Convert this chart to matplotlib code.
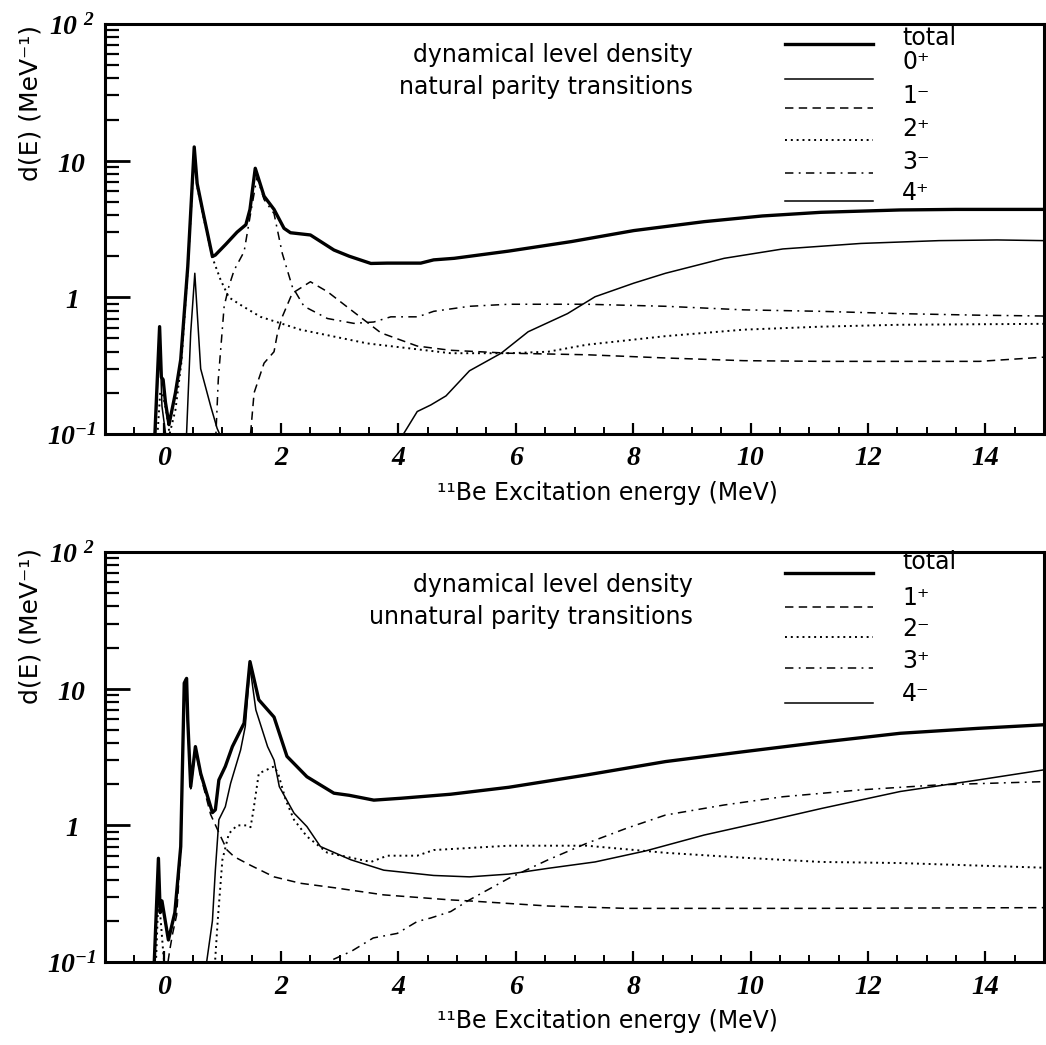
import numpy as np
import matplotlib
matplotlib.use("Agg")
import matplotlib.pyplot as plt
from matplotlib.ticker import FixedLocator, NullFormatter

plt.rcParams['mathtext.fontset'] = 'custom'
plt.rcParams['mathtext.bf'] = 'Liberation Serif:bold:italic'
plt.rcParams['font.family'] = ['DejaVu Sans']

# ---------------- natural parity (top panel) ----------------
e_tot_nat = [-0.16, -0.07, -0.04, -0.01, 0.03, 0.09, 0.2, 0.29, 0.41, 0.52, 0.57, 0.66, 0.83, 0.88,
             1.06, 1.25, 1.4, 1.47, 1.56, 1.71, 1.88, 2.05, 2.16, 2.5, 2.9, 3.16, 3.53, 3.81, 4.38,
             4.6, 4.95, 5.88, 6.95, 8.01, 9.21, 10.2, 11.2, 12.55, 13.5, 15.0]
d_tot_nat = [0.08, 0.61, 0.26, 0.25, 0.17, 0.117, 0.2, 0.35, 1.68, 12.6, 6.8, 4.4, 1.99, 2.04,
             2.45, 3.0, 3.4, 4.4, 8.8, 5.5, 4.4, 3.2, 2.97, 2.86, 2.22, 2.0, 1.77, 1.78, 1.78,
             1.88, 1.93, 2.18, 2.56, 3.08, 3.58, 3.94, 4.19, 4.36, 4.4, 4.4]

e_0p = [-0.15, -0.07, -0.03, 0.02, 0.06, 0.38, 0.46, 0.53, 0.63, 0.8, 0.91, 1.0]
d_0p = [0.08, 0.55, 0.16, 0.11, 0.08, 0.08, 0.55, 1.5, 0.30, 0.16, 0.11, 0.09]

e_1m = [1.46, 1.54, 1.71, 1.88, 1.94, 2.02, 2.19, 2.5, 2.79, 3.19, 3.7, 4.32, 4.88, 5.88,
        7.21, 8.55, 9.88, 11.2, 12.55, 13.9, 15.0]
d_1m = [0.08, 0.2, 0.33, 0.40, 0.55, 0.72, 1.07, 1.30, 1.1, 0.81, 0.55, 0.44, 0.41, 0.39,
        0.38, 0.36, 0.344, 0.34, 0.34, 0.34, 0.365]

e_2p = [-0.12, -0.06, -0.02, 0.04, 0.1, 0.2, 0.3, 0.41, 0.52, 0.57, 0.66, 0.83, 0.97, 1.11,
        1.31, 1.65, 2.33, 3.47, 4.89, 5.9, 6.55, 7.21, 8.55, 9.88, 11.2, 12.55, 15.0]
d_2p = [0.08, 0.2, 0.2, 0.15, 0.1, 0.15, 0.33, 1.6, 11.8, 6.5, 4.2, 1.95, 1.34, 1.0,
        0.88, 0.72, 0.58, 0.46, 0.39, 0.39, 0.4, 0.45, 0.52, 0.58, 0.61, 0.63, 0.64]

e_3m = [0.88, 0.93, 1.03, 1.11, 1.2, 1.37, 1.48, 1.59, 1.71, 1.88, 2.02, 2.19, 2.39, 2.79,
        3.24, 3.58, 3.87, 4.33, 4.6, 5.21, 5.88, 7.21, 8.55, 9.88, 11.2, 12.55, 13.9, 15.0]
d_3m = [0.08, 0.25, 0.86, 1.2, 1.58, 2.16, 4.1, 7.6, 5.2, 4.1, 2.1, 1.2, 0.86, 0.70,
        0.645, 0.66, 0.72, 0.72, 0.79, 0.86, 0.89, 0.89, 0.86, 0.81, 0.79, 0.76, 0.74, 0.73]

e_4p = [4.02, 4.32, 4.55, 4.81, 5.21, 5.75, 6.21, 6.88, 7.35, 8.01, 8.55, 9.55, 10.55,
        11.88, 13.21, 14.2, 15.0]
d_4p = [0.09, 0.146, 0.163, 0.19, 0.29, 0.39, 0.56, 0.76, 1.01, 1.27, 1.5, 1.93, 2.26,
        2.48, 2.6, 2.63, 2.6]

# ---------------- unnatural parity (bottom panel) ----------------
e_tot_unn = [-0.17, -0.09, -0.06, -0.03, 0.08, 0.19, 0.29, 0.35, 0.39, 0.41, 0.46, 0.54, 0.63,
             0.83, 0.88, 0.94, 1.05, 1.17, 1.37, 1.47, 1.62, 1.88, 2.1, 2.44, 2.9, 3.16, 3.58,
             4.05, 4.89, 5.88, 7.21, 8.55, 9.88, 11.2, 12.55, 13.88, 15.0]
d_tot_unn = [0.08, 0.574, 0.23, 0.28, 0.145, 0.23, 0.70, 11.0, 11.9, 5.9, 1.92, 3.77, 2.4,
             1.24, 1.3, 2.15, 2.7, 3.77, 5.6, 15.8, 8.3, 6.2, 3.2, 2.27, 1.72, 1.66, 1.53,
             1.58, 1.69, 1.9, 2.34, 2.93, 3.46, 4.06, 4.72, 5.13, 5.45]

e_1p = [0.04, 0.1, 0.15, 0.22, 0.29, 0.35, 0.39, 0.41, 0.46, 0.54, 0.63, 0.8, 0.97, 1.08,
        1.2, 1.48, 1.88, 2.33, 2.9, 3.75, 4.88, 5.21, 6.55, 7.88, 11.0, 15.0]
d_1p = [0.08, 0.12, 0.16, 0.22, 0.65, 10.5, 11.5, 5.6, 1.85, 3.6, 2.3, 1.2, 0.83, 0.66,
        0.59, 0.51, 0.42, 0.377, 0.35, 0.31, 0.285, 0.28, 0.257, 0.247, 0.247, 0.25]

e_2m = [-0.14, -0.09, -0.05, -0.01, 0.03, 0.86, 0.92, 1.0, 1.11, 1.25, 1.43, 1.48, 1.53,
        1.62, 1.88, 1.95, 2.08, 2.22, 2.44, 2.79, 3.19, 3.53, 3.81, 4.32, 4.6, 5.88, 7.21,
        8.55, 9.88, 11.2, 12.55, 15.0]
d_2m = [0.08, 0.3, 0.2, 0.12, 0.08, 0.08, 0.2, 0.56, 0.87, 1.0, 1.0, 0.97, 1.3,
        2.4, 2.7, 2.4, 1.53, 1.1, 0.83, 0.63, 0.58, 0.54, 0.6, 0.6, 0.66, 0.71, 0.71,
        0.63, 0.58, 0.54, 0.53, 0.49]

e_3p = [2.6, 2.9, 3.2, 3.57, 3.98, 4.32, 4.55, 4.89, 5.21, 5.88, 6.55, 7.21, 7.88, 8.55,
        9.55, 10.55, 11.88, 13.21, 15.0]
d_3p = [0.085, 0.105, 0.12, 0.15, 0.162, 0.198, 0.21, 0.234, 0.285, 0.41, 0.56, 0.74, 0.95,
        1.19, 1.41, 1.62, 1.82, 1.98, 2.09]

e_4m = [0.7, 0.83, 0.88, 0.94, 1.05, 1.14, 1.31, 1.39, 1.47, 1.57, 1.77, 1.88, 1.97, 2.22,
        2.44, 2.67, 3.19, 3.75, 4.6, 5.21, 5.88, 6.55, 7.35, 8.21, 9.21, 10.21, 11.21,
        12.55, 13.88, 15.0]
d_4m = [0.08, 0.2, 0.47, 1.1, 1.37, 2.03, 3.56, 5.3, 14.5, 7.0, 3.77, 3.0, 1.92, 1.23,
        0.98, 0.70, 0.56, 0.47, 0.43, 0.42, 0.44, 0.485, 0.54, 0.65, 0.85, 1.06, 1.33,
        1.77, 2.15, 2.55]

x_ticks = [0, 2, 4, 6, 8, 10, 12, 14]
y_ticks = [0.1, 1, 10, 100]
y_ticklabels = [r'$\mathbf{10^{-1}}$', r'$\mathbf{1}$', r'$\mathbf{10}$', r'$\mathbf{10^{\ 2}}$']

# line styles
SOLID = '-'
DASH = (0, (5.5, 3.5))
DOT = (0, (1.0, 2.0))
DASHDOT = (0, (5.5, 3.5, 1.2, 3.5))
LW_TOT = 2.4
LW = 1.1

fig = plt.figure(figsize=(10.46, 10.45), dpi=100)


def setup_axes(ax):
    ax.set_xlim(-1, 15)
    ax.set_yscale('log')
    ax.set_ylim(0.1, 100)
    for s in ax.spines.values():
        s.set_linewidth(2.2)
    ax.xaxis.set_major_locator(FixedLocator(x_ticks))
    ax.xaxis.set_minor_locator(FixedLocator(np.arange(-1, 15.01, 0.5)))
    ax.set_xticklabels([str(t) for t in x_ticks], fontfamily='Liberation Serif',
                       fontstyle='italic', fontweight='bold', fontsize=20)
    ax.yaxis.set_major_locator(FixedLocator(y_ticks))
    ax.yaxis.set_minor_locator(FixedLocator([m * 10.0 ** k for k in (-1, 0, 1) for m in range(2, 10)]))
    ax.yaxis.set_minor_formatter(NullFormatter())
    ax.set_yticklabels(y_ticklabels, fontsize=20)
    for lab in ax.get_yticklabels():
        lab.set_horizontalalignment('center')
    ax.tick_params(axis='x', which='major', direction='in', length=8, width=1.6, pad=9,
                   top=False)
    ax.tick_params(axis='x', which='minor', direction='in', length=5, width=1.4, top=False)
    ax.tick_params(axis='y', which='major', direction='in', length=18, width=2.0, pad=24,
                   right=False)
    ax.tick_params(axis='y', which='minor', direction='in', length=10, width=1.6, right=False)
    ax.set_xlabel('¹¹Be Excitation energy (MeV)', fontsize=17)
    ax.xaxis.set_label_coords(0.535, -0.115)


def draw_legend(ax, entries, line_y, text_y):
    for (label, ls, lw), ly, ty in zip(entries, line_y, text_y):
        ax.plot([0.724, 0.818], [ly, ly], transform=ax.transAxes, color='black',
                linestyle=ls, linewidth=lw, clip_on=False)
        ax.text(0.849, ty, label, transform=ax.transAxes, fontsize=17, va='center', ha='left')


# ---------------- top panel ----------------
ax1 = fig.add_axes([0.1004, 0.5847, 0.8977, 0.3923])
setup_axes(ax1)
ax1.plot(e_tot_nat, d_tot_nat, color='black', lw=LW_TOT, ls=SOLID)
ax1.plot(e_0p, d_0p, color='black', lw=LW, ls=SOLID)
ax1.plot(e_1m, d_1m, color='black', lw=LW, ls=DASH)
ax1.plot(e_2p, d_2p, color='black', lw=LW + 0.3, ls=DOT)
ax1.plot(e_3m, d_3m, color='black', lw=LW, ls=DASHDOT)
ax1.plot(e_4p, d_4p, color='black', lw=LW, ls=SOLID)
ax1.text(0.626, 0.924, 'dynamical level density', transform=ax1.transAxes, fontsize=17,
         ha='right', va='center')
ax1.text(0.626, 0.846, 'natural parity transitions', transform=ax1.transAxes, fontsize=17,
         ha='right', va='center')
draw_legend(ax1,
            [('total', SOLID, LW_TOT), ('0⁺', SOLID, LW), ('1⁻', DASH, LW),
             ('2⁺', DOT, LW + 0.3), ('3⁻', DASHDOT, LW), ('4⁺', SOLID, LW)],
            [0.951, 0.866, 0.795, 0.717, 0.637, 0.568],
            [0.966, 0.907, 0.824, 0.744, 0.663, 0.588])
fig.text(0.029, 0.976, 'd(E) (MeV⁻¹)', rotation=90, fontsize=18, ha='center', va='top')

# ---------------- bottom panel ----------------
ax2 = fig.add_axes([0.1004, 0.0794, 0.8977, 0.3923])
setup_axes(ax2)
ax2.plot(e_tot_unn, d_tot_unn, color='black', lw=LW_TOT, ls=SOLID)
ax2.plot(e_1p, d_1p, color='black', lw=LW, ls=DASH)
ax2.plot(e_2m, d_2m, color='black', lw=LW + 0.3, ls=DOT)
ax2.plot(e_3p, d_3p, color='black', lw=LW, ls=DASHDOT)
ax2.plot(e_4m, d_4m, color='black', lw=LW, ls=SOLID)
ax2.text(0.626, 0.92, 'dynamical level density', transform=ax2.transAxes, fontsize=17,
         ha='right', va='center')
ax2.text(0.626, 0.841, 'unnatural parity transitions', transform=ax2.transAxes, fontsize=17,
         ha='right', va='center')
draw_legend(ax2,
            [('total', SOLID, LW_TOT), ('1⁺', DASH, LW), ('2⁻', DOT, LW + 0.3),
             ('3⁺', DASHDOT, LW), ('4⁻', SOLID, LW)],
            [0.949, 0.866, 0.793, 0.717, 0.632],
            [0.976, 0.888, 0.812, 0.734, 0.654])
fig.text(0.029, 0.4756, 'd(E) (MeV⁻¹)', rotation=90, fontsize=18, ha='center', va='top')

fig.savefig('out.png', dpi=100)
